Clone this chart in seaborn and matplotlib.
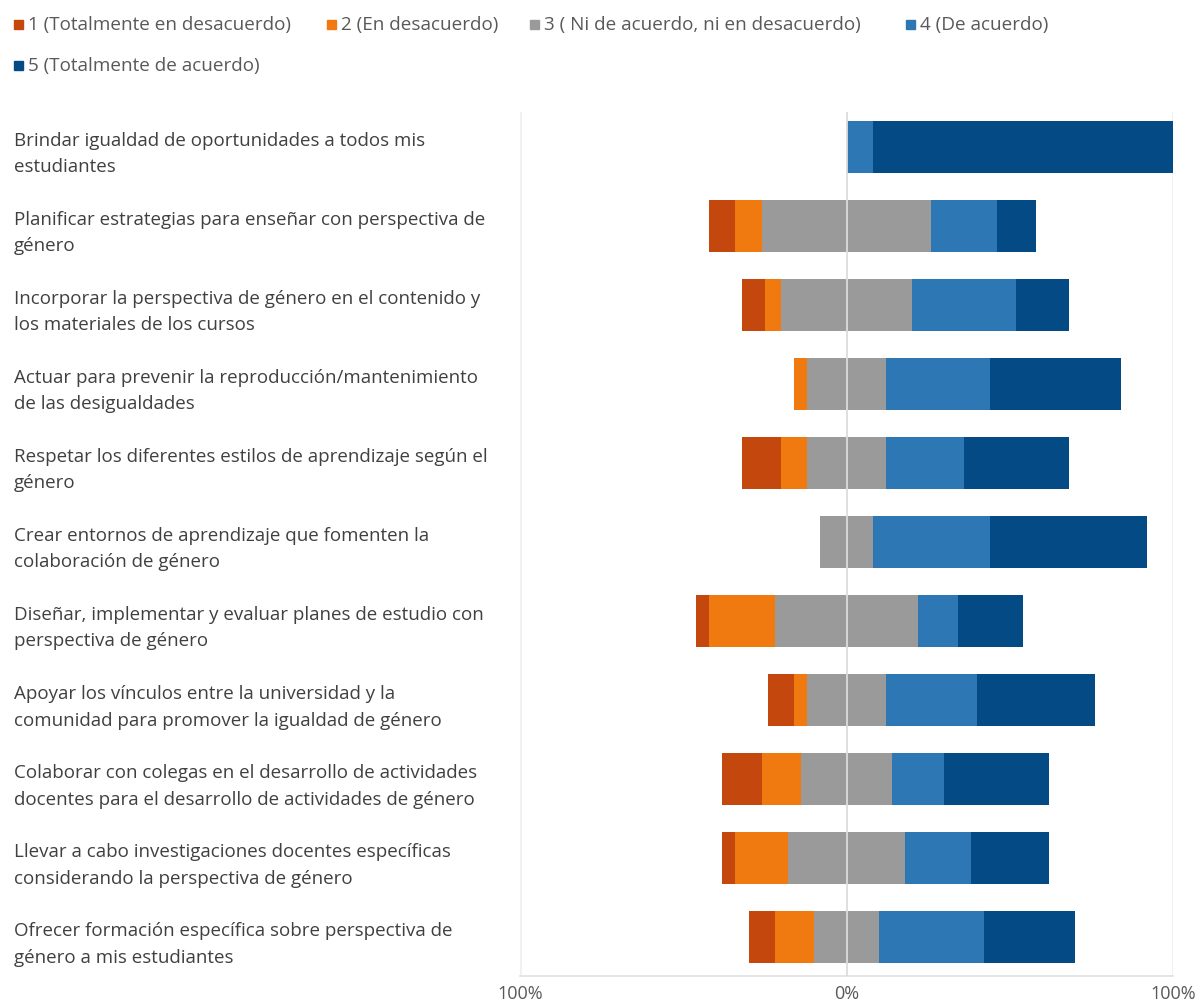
import matplotlib
matplotlib.use('Agg')
import matplotlib.pyplot as plt
import seaborn as sns
import pandas as pd
from matplotlib.patches import Rectangle

# ---------------- data ----------------
items = [
    "Brindar igualdad de oportunidades a todos mis\nestudiantes",
    "Planificar estrategias para enseñar con perspectiva de\ngénero",
    "Incorporar la perspectiva de género en el contenido y\nlos materiales de los cursos",
    "Actuar para prevenir la reproducción/mantenimiento\nde las desigualdades",
    "Respetar los diferentes estilos de aprendizaje según el\ngénero",
    "Crear entornos de aprendizaje que fomenten la\ncolaboración de género",
    "Diseñar, implementar y evaluar planes de estudio con\nperspectiva de género",
    "Apoyar los vínculos entre la universidad y la\ncomunidad para promover la igualdad de género",
    "Colaborar con colegas en el desarrollo de actividades\ndocentes para el desarrollo de actividades de género",
    "Llevar a cabo investigaciones docentes específicas\nconsiderando la perspectiva de género",
    "Ofrecer formación específica sobre perspectiva de\ngénero a mis estudiantes",
]
legend_labels = [
    "1 (Totalmente en desacuerdo)",
    "2 (En desacuerdo)",
    "3 ( Ni de acuerdo, ni en desacuerdo)",
    "4 (De acuerdo)",
    "5 (Totalmente de acuerdo)",
]
v1 = [0, 8, 7, 0, 12, 0, 4, 8, 12, 4, 8]
v2 = [0, 8, 5, 4, 8, 0, 20, 4, 12, 16, 12]
v3 = [0, 52, 40, 24, 24, 16, 44, 24, 28, 36, 20]
v4 = [8, 20, 32, 32, 24, 36, 12, 28, 16, 20, 32]
v5 = [92, 12, 16, 40, 32, 48, 20, 36, 32, 24, 28]
tick_vals = [-100, 0, 100]
tick_labels = ["100%", "0%", "100%"]

colors = ["#C4470E", "#F07A10", "#9A9A9A", "#2E77B5", "#044B86"]

# ---------------- frame ----------------
df = pd.DataFrame({"item": items, "v1": v1, "v2": v2, "v3": v3, "v4": v4, "v5": v5})
df["half"] = df["v3"] / 2
df["r5"] = df["half"] + df["v4"] + df["v5"]
df["r4"] = df["half"] + df["v4"]
df["r3"] = df["half"]
df["l1"] = -(df["half"] + df["v2"] + df["v1"])
df["l2"] = -(df["half"] + df["v2"])
df["l3"] = -df["half"]

sns.set_theme(style="white")
plt.rcParams["font.family"] = ["Open Sans", "DejaVu Sans"]

W, H = 1200, 1003
fig = plt.figure(figsize=(W / 100, H / 100), dpi=100)
ax = fig.add_axes([520 / W, 26 / H, 653 / W, 864 / H])

layers = [("r5", colors[4]), ("r4", colors[3]), ("r3", colors[2]),
          ("l1", colors[0]), ("l2", colors[1]), ("l3", colors[2])]
for col, c in layers:
    sns.barplot(data=df, x=col, y="item", order=items, orient="h", color=c,
                saturation=1, width=0.66, linewidth=0, errorbar=None, ax=ax)

ax.set_xlim(-100, 100)
ax.set_ylim(10.49, -0.44)
ax.set_xlabel("")
ax.set_ylabel("")

# grid / reference lines
ax.axvline(-100, color="#f0f0f0", lw=2, zorder=0)
ax.axvline(100, color="#f0f0f0", lw=2, zorder=0)
ax.axvline(0, color="#dcdcdc", lw=1.3, zorder=5)

for s in ["top", "right", "left"]:
    ax.spines[s].set_visible(False)
ax.spines["bottom"].set_color("#e0e0e0")
ax.spines["bottom"].set_linewidth(1.2)

ax.set_xticks(tick_vals)
ax.set_xticklabels(tick_labels, fontsize=13, color="#595959")
ax.tick_params(axis="x", length=0, pad=6)

ax.tick_params(axis="y", length=0, pad=(520 - 14) * 0.72)
for lab in ax.get_yticklabels():
    lab.set_horizontalalignment("left")
    lab.set_fontsize(13.5)
    lab.set_color("#404040")
    lab.set_linespacing(1.6)

# ---------------- legend (manual, to keep original row layout) ----------------
leg_pos = [(14, 25), (327, 25), (530, 25), (906, 25), (14, 66)]
for (x, y), lab, c in zip(leg_pos, legend_labels, colors):
    fig.patches.append(Rectangle((x / W, 1 - (y + 4.5) / H), 9 / W, 9 / H,
                                 transform=fig.transFigure, color=c, figure=fig))
    fig.text((x + 14) / W, 1 - y / H, lab, va="center", ha="left",
             fontsize=13.6, color="#595959")

fig.savefig("out.png", dpi=100, facecolor="white")
